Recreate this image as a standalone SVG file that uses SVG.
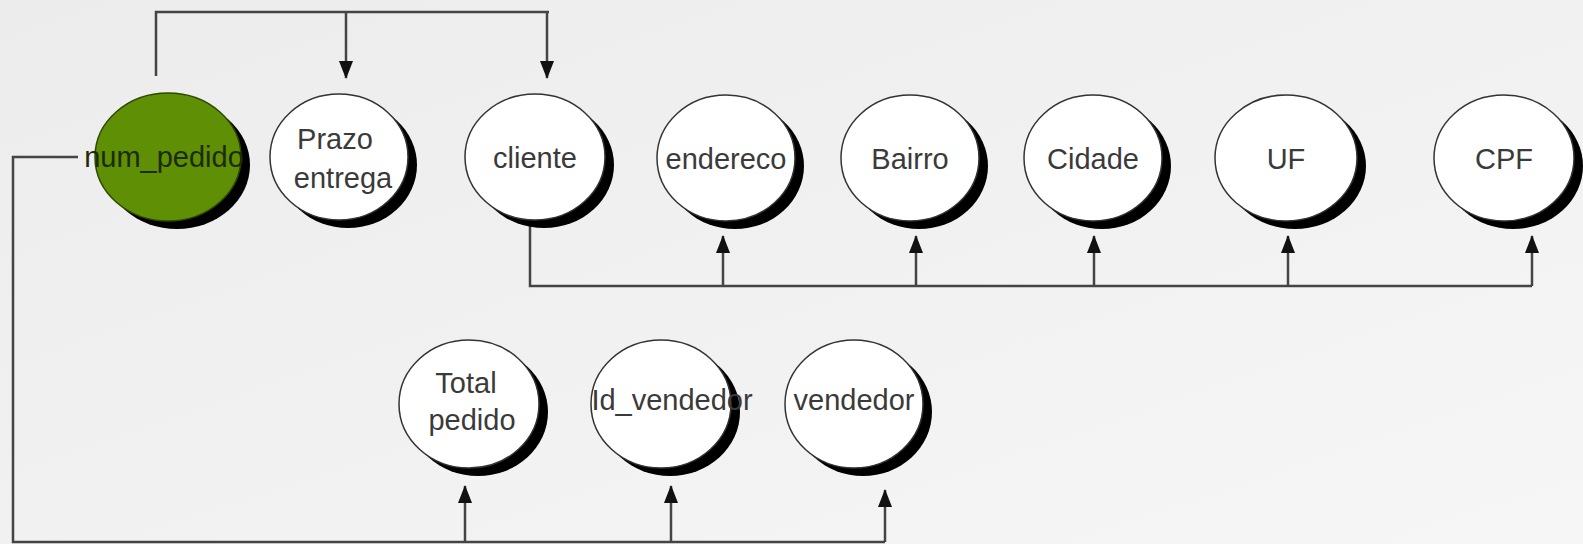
<svg xmlns="http://www.w3.org/2000/svg" width="1583" height="544" viewBox="0 0 1583 544">
<defs>
<linearGradient id="bg" x1="0" y1="0" x2="1" y2="1">
<stop offset="0" stop-color="#ececec"/>
<stop offset="1" stop-color="#f6f6f6"/>
</linearGradient>
<marker id="arr" viewBox="0 0 18 14" refX="17" refY="7" markerWidth="18" markerHeight="14" markerUnits="userSpaceOnUse" orient="auto">
<path d="M0,0 L18,7 L0,14 Z" fill="#111"/>
</marker>
<style>
.sh{fill:#000}
.bub{fill:#fff;stroke:#333;stroke-width:1.5}
.key{fill:#5f8f05;stroke:#2d4a00;stroke-width:1.5}
.lbl{font-family:"Liberation Sans",Arial,sans-serif;font-size:29px;fill:#3a3a3a;text-anchor:middle}
.kl{fill:#1d2b05}
.ln{fill:none;stroke:#444;stroke-width:2.5}
</style>
</defs>
<rect width="1583" height="544" fill="url(#bg)"/>
<g id="connectors">
<path class="ln" d="M156,76 V12 H549"/>
<path class="ln" d="M346,12 V78" marker-end="url(#arr)"/>
<path class="ln" d="M547,12 V78" marker-end="url(#arr)"/>
<path class="ln" d="M78,157 H13 V542 H885"/>
<path class="ln" d="M885,542 V490" marker-end="url(#arr)"/>
<path class="ln" d="M465,542 V486" marker-end="url(#arr)"/>
<path class="ln" d="M671,542 V486" marker-end="url(#arr)"/>
<path class="ln" d="M530,222 V286 H1532"/>
<path class="ln" d="M1532,286 V236" marker-end="url(#arr)"/>
<path class="ln" d="M723,286 V236" marker-end="url(#arr)"/>
<path class="ln" d="M916,286 V236" marker-end="url(#arr)"/>
<path class="ln" d="M1094,286 V236" marker-end="url(#arr)"/>
<path class="ln" d="M1288,286 V236" marker-end="url(#arr)"/>
</g>
<g id="num_pedido">
<ellipse class="sh" cx="177" cy="165" rx="73" ry="64"/>
<ellipse class="key" cx="168" cy="157" rx="73" ry="64"/>
<text class="lbl kl" x="164" y="167">num_pedido</text>
</g>
<g id="prazo_entrega">
<ellipse class="sh" cx="348" cy="165" rx="69" ry="63"/>
<ellipse class="bub" cx="339" cy="157" rx="69" ry="63"/>
<text class="lbl" x="335" y="149">Prazo</text>
<text class="lbl" x="343" y="188">entrega</text>
</g>
<g id="cliente">
<ellipse class="sh" cx="544" cy="165" rx="70" ry="63"/>
<ellipse class="bub" cx="535" cy="157" rx="70" ry="63"/>
<text class="lbl" x="535" y="168">cliente</text>
</g>
<g id="endereco">
<ellipse class="sh" cx="735" cy="166" rx="69" ry="63"/>
<ellipse class="bub" cx="726" cy="158" rx="69" ry="63"/>
<text class="lbl" x="726" y="169">endereco</text>
</g>
<g id="bairro">
<ellipse class="sh" cx="919" cy="166" rx="69" ry="63"/>
<ellipse class="bub" cx="910" cy="158" rx="69" ry="63"/>
<text class="lbl" x="910" y="169">Bairro</text>
</g>
<g id="cidade">
<ellipse class="sh" cx="1102" cy="166" rx="69" ry="63"/>
<ellipse class="bub" cx="1093" cy="158" rx="69" ry="63"/>
<text class="lbl" x="1093" y="169">Cidade</text>
</g>
<g id="uf">
<ellipse class="sh" cx="1295" cy="166" rx="71" ry="63"/>
<ellipse class="bub" cx="1286" cy="158" rx="71" ry="63"/>
<text class="lbl" x="1286" y="169">UF</text>
</g>
<g id="cpf">
<ellipse class="sh" cx="1513" cy="166" rx="70" ry="63"/>
<ellipse class="bub" cx="1504" cy="158" rx="70" ry="63"/>
<text class="lbl" x="1504" y="169">CPF</text>
</g>
<g id="total_pedido">
<ellipse class="sh" cx="478" cy="412" rx="70" ry="64"/>
<ellipse class="bub" cx="469" cy="404" rx="70" ry="64"/>
<text class="lbl" x="466" y="393">Total</text>
<text class="lbl" x="472" y="430">pedido</text>
</g>
<g id="id_vendedor">
<ellipse class="sh" cx="670" cy="412" rx="70" ry="64"/>
<ellipse class="bub" cx="661" cy="404" rx="70" ry="64"/>
<text class="lbl" x="672" y="410">Id_vendedor</text>
</g>
<g id="vendedor">
<ellipse class="sh" cx="863" cy="412" rx="69" ry="64"/>
<ellipse class="bub" cx="854" cy="404" rx="69" ry="64"/>
<text class="lbl" x="854" y="410">vendedor</text>
</g>
</svg>
